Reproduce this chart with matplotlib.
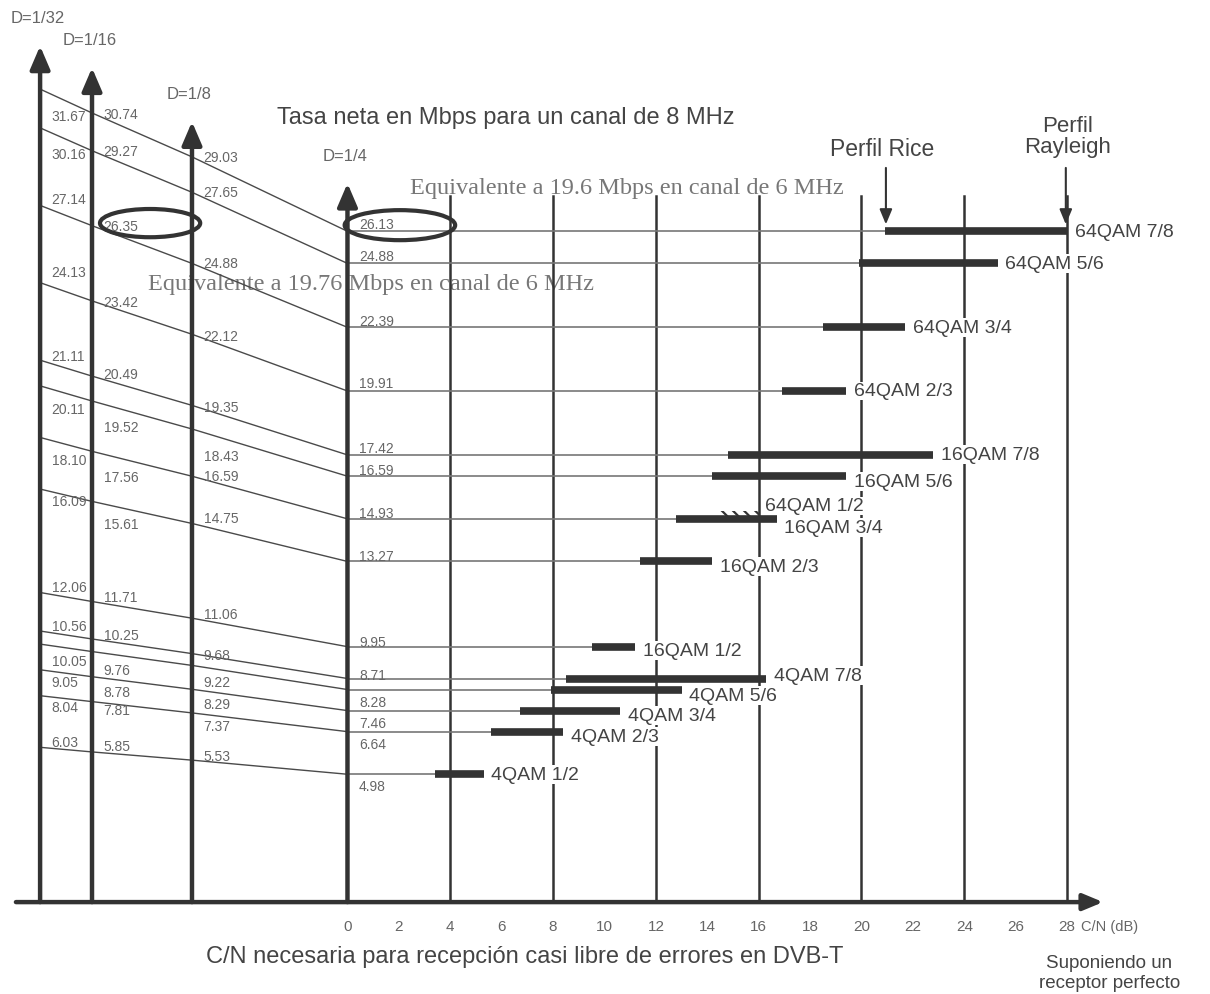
import matplotlib.pyplot as plt
from matplotlib.patches import Ellipse, Rectangle

# Guard interval axes and their horizontal place on the chart (dB units).
GUARDS = ["D=1/32", "D=1/16", "D=1/8", "D=1/4"]
GUARD_X = [-11.96, -9.94, -6.05, 0.0]
GUARD_TOP = [33.35, 32.5, 30.4, 28.0]

# Modes, top to bottom (16QAM 3/4 shares its rates with 64QAM 1/2).
MODES = ["64QAM 7/8", "64QAM 5/6", "64QAM 3/4", "64QAM 2/3", "16QAM 7/8", "16QAM 5/6",
         "16QAM 3/4", "16QAM 2/3", "16QAM 1/2", "4QAM 7/8", "4QAM 5/6", "4QAM 3/4",
         "4QAM 2/3", "4QAM 1/2"]

# Net rate in Mbps for an 8 MHz channel, per guard interval.
RATE_D32 = [31.67, 30.16, 27.14, 24.13, 21.11, 20.11, 18.10, 16.09, 12.06, 10.56, 10.05, 9.05, 8.04, 6.03]
RATE_D16 = [30.74, 29.27, 26.35, 23.42, 20.49, 19.52, 17.56, 15.61, 11.71, 10.25, 9.76, 8.78, 7.81, 5.85]
RATE_D8 = [29.03, 27.65, 24.88, 22.12, 19.35, 18.43, 16.59, 14.75, 11.06, 9.68, 9.22, 8.29, 7.37, 5.53]
RATE_D4 = [26.13, 24.88, 22.39, 19.91, 17.42, 16.59, 14.93, 13.27, 9.95, 8.71, 8.28, 7.46, 6.64, 4.98]

# C/N (dB) needed: Rice profile (bar start) and Rayleigh profile (bar end).
CN_RICE = [20.9, 19.9, 18.5, 16.9, 14.8, 14.2, 12.8, 11.4, 9.5, 8.5, 7.9, 6.7, 5.6, 3.4]
CN_RAYLEIGH = [28.0, 25.3, 21.7, 19.4, 22.8, 19.4, 16.7, 14.2, 11.2, 16.3, 13.0, 10.6, 8.4, 5.3]

# 64QAM 1/2 (hatched, same rate as 16QAM 3/4).
EXTRA_MODE = "64QAM 1/2"
EXTRA_RATE = 14.93
EXTRA_CN = [14.5, 16.0]

CN_TICKS = list(range(0, 29, 2))
GRID_CN = list(range(4, 29, 4))

# Vertical nudges (Mbps) of the value labels, as they sit in the drawing.
DY_D32 = [-1.05, -1.0, 0.23, 0.43, 0.16, -0.9, -0.86, -0.47, 0.2, 0.2, -0.66, -0.47, -0.43, 0.2]
DY_D16 = [-0.04, 0, 0, -0.04, 0.08, -1.0, -1.0, -0.9, 0.16, 0.16, -0.7, -0.58, -0.31, 0.23]
DY_D8 = [0, 0, 0, -0.08, -0.08, -1.05, 0, 0.2, 0.16, -0.04, -0.66, -0.58, -0.5, 0.16]
DY_D4 = [0.3, 0.3, 0.25, 0.3, 0.25, 0.25, 0.22, 0.2, 0.2, 0.12, -0.5, -0.47, -0.47, -0.45]
DY_MODE = [0, 0, 0, 0, 0, -0.2, -0.35, -0.2, -0.15, 0.1, -0.25, -0.2, -0.2, 0]

DARK = "#333333"
TEXT = "#444444"
LIGHT = "#666666"

plt.rcParams['font.family'] = ['Liberation Sans', 'DejaVu Sans']
plt.rcParams['hatch.linewidth'] = 1.6


def arrow(ax, start, end, lw, head="-|>,head_length=0.7,head_width=0.3", scale=20, color=DARK):
    ax.annotate("", xy=end, xytext=start,
                arrowprops=dict(arrowstyle=head, lw=lw, color=color, mutation_scale=scale,
                                shrinkA=0, shrinkB=0), zorder=5)


def plot():
    fig = plt.figure(figsize=(12.1, 9.95), dpi=100)
    ax = fig.add_axes([0, 0, 1, 1])
    ax.set_xlim(-13.52, 33.56)
    ax.set_ylim(-3.58, 35.18)
    ax.axis("off")

    rates = [RATE_D32, RATE_D16, RATE_D8, RATE_D4]
    nudges = [DY_D32, DY_D16, DY_D8, DY_D4]

    # Grid lines of the C/N scale.
    for g in GRID_CN:
        ax.plot([g, g], [0, 27.5], color=DARK, lw=1.8, zorder=1)

    # Guard interval axes with arrows.
    for name, gx, top in zip(GUARDS, GUARD_X, GUARD_TOP):
        arrow(ax, (gx, 0), (gx, top), lw=3.2)
        ax.text(gx - 0.1, top + 1.1, name, ha="center", va="center", fontsize=12, color=LIGHT)

    # C/N axis.
    arrow(ax, (-12.9, 0), (29.4, 0), lw=3.2, head="-|>,head_length=0.6,head_width=0.25")
    for t in CN_TICKS:
        ax.text(t, -0.93, str(t), ha="center", va="center", fontsize=11, color=LIGHT)
    ax.text(28.55, -0.93, "C/N (dB)", ha="left", va="center", fontsize=10.5, color=LIGHT)

    # Rate lines across the guard axes, then over to the bars.
    for i, mode in enumerate(MODES):
        ys = [r[i] for r in rates]
        ax.plot(GUARD_X, ys, color="#4a4a4a", lw=1.0, zorder=2)
        ax.plot([0, CN_RICE[i]], [RATE_D4[i], RATE_D4[i]], color="#777777", lw=1.2, zorder=2)
        ax.plot([CN_RICE[i], CN_RAYLEIGH[i]], [RATE_D4[i], RATE_D4[i]], color=DARK,
                lw=5.5, solid_capstyle="butt", zorder=3)
        ax.text(CN_RAYLEIGH[i] + 0.3, RATE_D4[i] + DY_MODE[i], mode, ha="left", va="center",
                fontsize=14, color=TEXT, zorder=4,
                bbox=dict(boxstyle="square,pad=0.05", fc="white", ec="none"))

        # Value labels next to each guard axis.
        for gx, r, dy in zip(GUARD_X, rates, nudges):
            ax.text(gx + 0.45, r[i] + dy[i], f"{r[i]:.2f}", ha="left", va="center",
                    fontsize=10, color=LIGHT, zorder=4)

    # 64QAM 1/2 hatched bar.
    ax.add_patch(Rectangle((EXTRA_CN[0], EXTRA_RATE + 0.05), EXTRA_CN[1] - EXTRA_CN[0], 0.25,
                           fill=False, hatch="\\\\\\", ec=DARK, lw=0, zorder=3))
    ax.text(16.25, EXTRA_RATE + 0.5, EXTRA_MODE, ha="left", va="center", fontsize=14,
            color=TEXT, zorder=4, bbox=dict(boxstyle="square,pad=0.05", fc="white", ec="none"))

    # Circled equivalent rates.
    ax.add_patch(Ellipse((-7.68, 26.45), 3.9, 1.1, fill=False, ec=DARK, lw=3, zorder=4))
    ax.add_patch(Ellipse((2.04, 26.37), 4.3, 1.17, fill=False, ec=DARK, lw=3, zorder=4))
    ax.text(2.45, 27.85, "Equivalente a 19.6 Mbps en canal de 6 MHz", ha="left", va="center",
            family="Liberation Serif", fontsize=17.5, color="#777777", zorder=0)
    ax.text(-7.75, 24.1, "Equivalente a 19.76 Mbps en canal de 6 MHz", ha="left", va="center",
            family="Liberation Serif", fontsize=17.5, color="#777777", zorder=0)

    # Channel profile markers.
    ax.text(20.8, 29.37, "Perfil Rice", ha="center", va="center", fontsize=16.5, color=TEXT)
    ax.text(28.0, 29.85, "Perfil\nRayleigh", ha="center", va="center", fontsize=16,
            color=TEXT, linespacing=1.0)
    arrow(ax, (20.95, 28.6), (20.95, 26.4), lw=1.5, head="-|>,head_length=0.6,head_width=0.25",
          scale=15)
    arrow(ax, (27.95, 28.6), (27.95, 26.4), lw=1.5, head="-|>,head_length=0.6,head_width=0.25",
          scale=15)

    # Titles.
    ax.text(6.15, 30.6, "Tasa neta en Mbps para un canal de 8 MHz", ha="center", va="center",
            fontsize=17, color=TEXT)
    ax.text(6.9, -2.1, "C/N necesaria para recepción casi libre de errores en DVB-T",
            ha="center", va="center", fontsize=17, color=TEXT)
    ax.text(29.65, -2.75, "Suponiendo un\nreceptor perfecto", ha="center", va="center",
            fontsize=13.5, color=TEXT, linespacing=1.2)

    plt.savefig("out.png", dpi=100)


def main():
    plot()


if __name__ == "__main__":
    main()
